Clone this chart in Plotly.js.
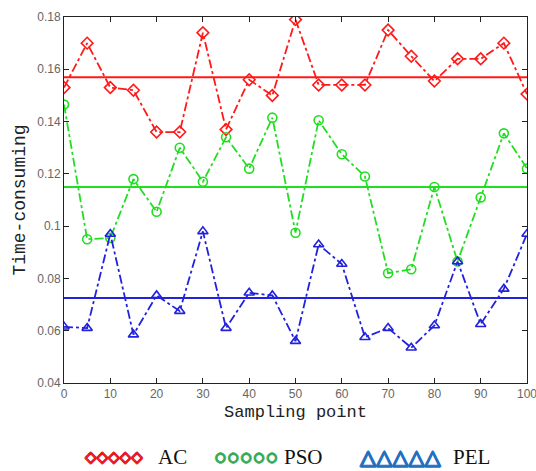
<!DOCTYPE html>
<html>
<head>
<meta charset="utf-8">
<script src="https://cdn.plot.ly/plotly-3.0.1.min.js"></script>
<style>html,body{margin:0;padding:0;background:#fff;}#chart{width:536px;height:471px;}</style>
</head>
<body>
<div id="chart"></div>
<script>
const samplingPoints = [0,5,10,15,20,25,30,35,40,45,50,55,60,65,70,75,80,85,90,95,100];
const acValues  = [0.153,0.170,0.153,0.152,0.136,0.136,0.174,0.137,0.156,0.150,0.179,0.154,0.154,0.154,0.175,0.165,0.1555,0.164,0.164,0.170,0.1505];
const psoValues = [0.1465,0.095,0.0955,0.118,0.1055,0.130,0.117,0.134,0.122,0.1415,0.0975,0.1405,0.1275,0.119,0.082,0.0835,0.115,0.0865,0.111,0.1355,0.122];
const pelValues = [0.0615,0.061,0.097,0.0585,0.0735,0.0675,0.098,0.061,0.0745,0.0735,0.056,0.093,0.0855,0.0575,0.061,0.0535,0.062,0.0865,0.0625,0.076,0.097];
const seriesNames = ["AC","PSO","PEL"];
const meanValues = [0.157,0.115,0.0725];
const meanRange = [0,100];
const yTickVals = [0.04,0.06,0.08,0.1,0.12,0.14,0.16,0.18];
const yTickText = ["0.04","0.06","0.08","0.1","0.12","0.14","0.16","0.18"];
const xTickVals = [0,10,20,30,40,50,60,70,80,90,100];
const xTickText = ["0","10","20","30","40","50","60","70","80","90","100"];

const lineColors = ["#ff1a1a","#22dd22","#2222dd"];
const legendColors = ["#e8101c","#23a44a","#1f6fc0"];
const symbols = ["diamond-open","circle-open","triangle-up-open"];
const allValues = [acValues, psoValues, pelValues];

const traces = [];
allValues.forEach((vals, i) => {
  traces.push({
    x: samplingPoints, y: vals, type: 'scatter', mode: 'lines+markers',
    name: seriesNames[i], showlegend: false,
    line: {color: lineColors[i], width: 1.8, dash: 'dashdot'},
    marker: {symbol: symbols[i], size: 9, color: lineColors[i], line: {width: 1.6, color: lineColors[i]}}
  });
  traces.push({
    x: meanRange, y: [meanValues[i], meanValues[i]], type: 'scatter', mode: 'lines',
    showlegend: false, hoverinfo: 'skip',
    line: {color: lineColors[i], width: 2}
  });
});

function thick(c, w) {
  return `${w}px 0 0 ${c}, -${w}px 0 0 ${c}, 0 ${w}px 0 ${c}, 0 -${w}px 0 ${c}`;
}
const sp = '\u2009';
const glyphs = ["◇◇◇◇◇", ["○","○","○","○","○"].join(sp), "△△△△△"];
const glyphSizes = [15, 12, 21];
const legendX = [0.041, 0.322, 0.635];
const labelX = [0.199, 0.471, 0.836];
const annotations = [];
seriesNames.forEach((n, i) => {
  annotations.push({xref:'paper', yref:'paper', x: legendX[i], y: -0.202, xanchor:'left', yanchor:'middle',
    text: glyphs[i], showarrow:false,
    font:{family:'DejaVu Sans', size: glyphSizes[i], color: legendColors[i], shadow: thick(legendColors[i], 0.9)}});
  annotations.push({xref:'paper', yref:'paper', x: labelX[i], y: -0.202, xanchor:'left', yanchor:'middle',
    text: n, showarrow:false,
    font:{family:'Liberation Serif', size: 21, color:'#111'}});
});

const layout = {
  width: 536, height: 471,
  margin: {l: 64, r: 9, t: 17, b: 88},
  paper_bgcolor: '#fff', plot_bgcolor: '#fff',
  xaxis: {
    range: [0,100], tickvals: xTickVals, ticktext: xTickText,
    ticks: 'inside', ticklen: 5, tickcolor: '#222', mirror: 'ticks',
    showline: true, linecolor: '#222', linewidth: 1, showgrid: false, zeroline: false,
    ticklabeloverflow: 'allow',
    tickfont: {family: 'Liberation Sans', size: 12, color: '#666'},
    title: {text: 'Sampling point', font: {family: 'Liberation Mono', size: 17, color: '#222'}, standoff: 4}
  },
  yaxis: {
    range: [0.04,0.18], tickvals: yTickVals, ticktext: yTickText,
    ticks: 'inside', ticklen: 5, tickcolor: '#222', mirror: 'ticks',
    showline: true, linecolor: '#222', linewidth: 1, showgrid: false, zeroline: false,
    tickfont: {family: 'Liberation Sans', size: 12, color: '#666'},
    title: {text: 'Time-consuming', font: {family: 'Liberation Mono', size: 18, color: '#222'}, standoff: 6}
  },
  annotations: annotations
};

Plotly.newPlot('chart', traces, layout, {displayModeBar: false, staticPlot: true});
</script>
</body>
</html>
